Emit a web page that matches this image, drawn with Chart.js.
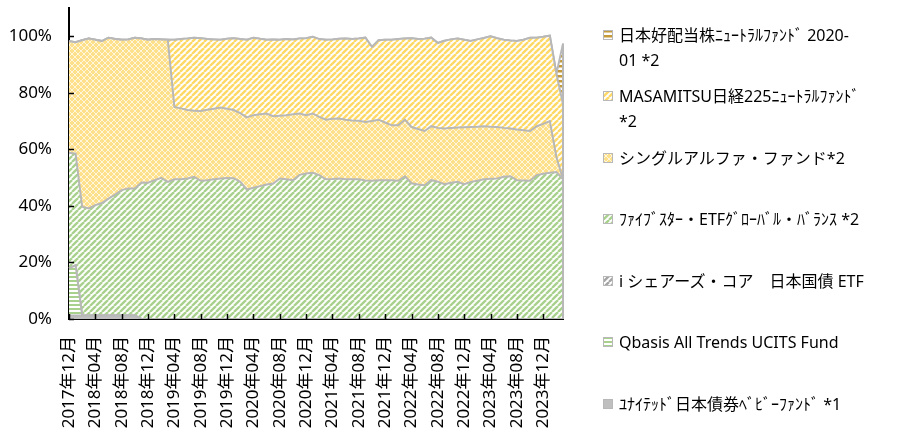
<!DOCTYPE html>
<html>
<head>
<meta charset="utf-8">
<script src="https://cdn.jsdelivr.net/npm/chart.js@4.4.1/dist/chart.umd.min.js"></script>
<style>
html, body { margin: 0; padding: 0; background: #fff; }
#wrap { position: relative; width: 898px; height: 435px; overflow: hidden; }
.item { position: absolute; left: 603px; white-space: pre; font-family: "Noto Sans", "Noto Sans CJK JP", sans-serif; font-size: 16px; line-height: 25px; color: #000; }
.item canvas { position: absolute; left: 0; top: 7px; }
.item span { position: absolute; left: 16px; top: 0; }
</style>
</head>
<body>
<div id="wrap">
  <canvas id="chart" width="898" height="435"></canvas>
  <div id="legend"></div>
</div>
<script>
// 月次データ 2017年12月〜2024年03月（構成比 %）
const START_YEAR = 2017;
const START_MONTH = 12;

// 系列名（下から順）。\n は凡例の改行位置
const seriesNames = [
  'ﾕﾅｲﾃｯﾄﾞ日本債券ﾍﾞﾋﾞｰﾌｧﾝﾄﾞ *1',
  'Qbasis All Trends UCITS Fund',
  'i シェアーズ・コア　日本国債 ETF',
  'ﾌｧｲﾌﾞｽﾀｰ・ETFｸﾞﾛｰﾊﾞﾙ・ﾊﾞﾗﾝｽ *2',
  'シングルアルファ・ファンド*2',
  'MASAMITSU日経225ﾆｭｰﾄﾗﾙﾌｧﾝﾄﾞ\n*2',
  '日本好配当株ﾆｭｰﾄﾗﾙﾌｧﾝﾄﾞ 2020-\n01 *2'
];

const united = [1.2, 1.2, 1.2, 1.2, 1.2, 1.2, 1.2, 1.2, 1.2, 1.2, 1.2,
  0, 0, 0, 0, 0, 0, 0, 0, 0, 0, 0, 0, 0, 0, 0, 0, 0, 0, 0, 0, 0, 0,
  0, 0, 0, 0, 0, 0, 0, 0, 0, 0, 0, 0, 0, 0, 0, 0, 0, 0, 0, 0, 0, 0,
  0, 0, 0, 0, 0, 0, 0, 0, 0, 0, 0, 0, 0, 0, 0, 0, 0, 0, 0, 0, 0, 0];

const qbasis = [16.7, 17.8,
  0, 0, 0, 0, 0, 0, 0, 0, 0, 0, 0, 0, 0, 0, 0, 0, 0, 0, 0, 0, 0, 0, 0, 0, 0,
  0, 0, 0, 0, 0, 0, 0, 0, 0, 0, 0, 0, 0, 0, 0, 0, 0, 0, 0, 0, 0, 0, 0, 0, 0,
  0, 0, 0, 0, 0, 0, 0, 0, 0, 0, 0, 0, 0, 0, 0, 0, 0, 0, 0, 0, 0, 0, 0, 0];

const ishares = [0, 0, 0, 0, 0, 0, 0, 0, 0, 0, 0, 0, 0, 0, 0, 0, 0, 0, 0, 0,
  0, 0, 0, 0, 0, 0, 0, 0, 0, 0, 0, 0, 0, 0, 0, 0, 0, 0, 0, 0, 0, 0, 0, 0,
  0, 0, 0, 0, 0, 0, 0, 0, 0, 0, 0, 0, 0, 0, 0, 0, 0, 0, 0, 0, 0, 0, 0, 0,
  0, 0, 0, 0, 0, 0, 0, 0];

const fivestar = [40.9, 39.5, 38.5, 37.9, 39.1, 39.8, 41.4, 42.8, 44.4, 45.0,
  45.0, 48.3, 48.2, 49.1, 49.9, 48.5, 49.4, 49.4, 49.7, 50.3,
  48.9, 49.1, 49.4, 49.7, 49.9, 49.8, 48.5, 45.8, 46.4, 47.0,
  47.6, 47.9, 49.7, 49.4, 49.1, 51.0, 51.5, 51.7, 50.9, 49.4,
  49.5, 49.7, 49.4, 49.4, 49.4, 49.0, 48.9, 49.1, 49.1, 49.1,
  48.9, 50.5, 48.0, 47.6, 47.3, 49.1, 48.6, 47.7, 48.2, 48.5,
  47.7, 48.5, 48.9, 49.4, 49.6, 49.7, 50.3, 50.5, 49.1, 49.0,
  48.9, 50.9, 51.4, 51.7, 52.0, 49.4];

const singleAlpha = [39.4, 39.4, 58.9, 60.1, 58.5, 57.3, 56.9, 55.0, 53.2, 52.7,
  53.3, 50.9, 50.6, 49.9, 49.0, 50.3, 25.6, 25.1, 24.2, 23.4,
  24.7, 24.9, 25.0, 25.1, 24.5, 24.1, 24.3, 25.5, 25.7, 25.4,
  25.1, 23.8, 22.2, 22.7, 23.3, 21.7, 20.6, 21.0, 20.6, 21.1,
  21.3, 21.2, 21.1, 20.8, 20.7, 20.7, 21.1, 21.4, 20.4, 19.4,
  19.6, 20.0, 19.9, 19.6, 19.2, 19.1, 19.0, 19.7, 19.4, 19.2,
  20.1, 19.4, 19.1, 18.8, 18.4, 18.2, 17.3, 16.9, 17.9, 17.8,
  17.6, 17.3, 17.6, 18.3, 5.3, 0];

const masamitsu = [0, 0, 0, 0, 0, 0, 0, 0, 0, 0, 0, 0, 0, 0, 0, 0,
  23.8, 24.5, 25.3, 25.8, 25.7, 25.0, 24.5, 24.0, 24.7, 25.4,
  26.2, 27.5, 27.4, 26.7, 26.1, 27.2, 26.9, 26.9, 26.5, 26.5,
  27.2, 27.1, 27.5, 28.3, 28.1, 28.2, 28.7, 28.8, 29.1, 29.8,
  26.2, 28.1, 29.3, 30.3, 30.5, 28.7, 31.4, 31.8, 32.6, 31.3,
  30.0, 31.0, 31.3, 31.5, 31.0, 30.4, 30.9, 31.2, 32.0, 31.4,
  31.2, 31.1, 31.3, 32.0, 33.0, 31.3, 30.8, 30.2, 29.5, 26.6];

const kohaito = [0, 0, 0, 0, 0, 0, 0, 0, 0, 0, 0, 0, 0, 0, 0, 0, 0, 0, 0, 0,
  0, 0, 0, 0, 0, 0, 0, 0, 0, 0, 0, 0, 0, 0, 0, 0, 0, 0, 0, 0, 0, 0, 0, 0,
  0, 0, 0, 0, 0, 0, 0, 0, 0, 0, 0, 0, 0, 0, 0, 0, 0, 0, 0, 0, 0, 0, 0, 0,
  0, 0, 0, 0, 0, 0, 0, 21.4];

const yTicks = [0, 20, 40, 60, 80, 100];

// カテゴリ（年月ラベル）
const labels = [];
for (let i = 0; i < fivestar.length; i++) {
  const k = START_MONTH - 1 + i;
  labels.push((START_YEAR + Math.floor(k / 12)) + '年' + String(k % 12 + 1).padStart(2, '0') + '月');
}

// パターン塗り
function makeTile(w, h, draw) {
  const c = document.createElement('canvas');
  c.width = w; c.height = h;
  draw(c.getContext('2d'), w, h);
  return c;
}
function solid(col) {
  return makeTile(4, 4, (g, w, h) => { g.fillStyle = col; g.fillRect(0, 0, w, h); });
}
function hStripe(col, p, t) {
  return makeTile(p, p, (g) => {
    g.fillStyle = '#fff'; g.fillRect(0, 0, p, p);
    g.fillStyle = col; g.fillRect(0, 0, p, t);
  });
}
function diag(col, p, lw) {
  return makeTile(p, p, (g) => {
    g.fillStyle = '#fff'; g.fillRect(0, 0, p, p);
    g.strokeStyle = col; g.lineWidth = lw;
    for (const o of [-p, 0, p]) {
      g.beginPath(); g.moveTo(o, p); g.lineTo(o + p, 0); g.stroke();
    }
  });
}
function lattice(col, p) {
  return makeTile(p, p, (g) => {
    g.fillStyle = col; g.fillRect(0, 0, p, p);
    g.strokeStyle = 'rgba(255,255,255,0.7)'; g.lineWidth = 1;
    for (const o of [-p, 0, p]) {
      g.beginPath(); g.moveTo(o, p); g.lineTo(o + p, 0); g.stroke();
      g.beginPath(); g.moveTo(o, 0); g.lineTo(o + p, p); g.stroke();
    }
  });
}

const tiles = [
  solid('#bfbfbf'),
  hStripe('#a9d18e', 4, 2),
  diag('#a5a5a5', 6, 2.4),
  diag('#a9d18e', 6, 2.4),
  lattice('#ffe08a', 6),
  diag('#ffd966', 6, 2.4),
  hStripe('#c49a3a', 5, 2.5)
];

const seriesData = [united, qbasis, ishares, fivestar, singleAlpha, masamitsu, kohaito];
const outline = '#b8b8b8';
const fontFamily = '"Noto Sans", "Noto Sans CJK JP", sans-serif';

const ctx = document.getElementById('chart').getContext('2d');

const datasets = seriesData.map((d, i) => ({
  label: seriesNames[i].replace('\n', ''),
  data: d,
  backgroundColor: ctx.createPattern(tiles[i], 'repeat'),
  borderColor: outline,
  borderWidth: 2,
  pointRadius: 0,
  tension: 0,
  fill: i === 0 ? 'origin' : '-1'
}));

// 内向きの目盛りと右端の輪郭線
const decor = {
  id: 'decor',
  afterDraw(chart) {
    const { ctx, scales: { x, y } } = chart;
    ctx.save();
    const li = labels.length - 1;
    let total = 0;
    seriesData.forEach(d => { total += d[li]; });
    const ex = x.getPixelForValue(li);
    ctx.strokeStyle = outline;
    ctx.lineWidth = 2;
    ctx.beginPath();
    ctx.moveTo(ex, y.getPixelForValue(0));
    ctx.lineTo(ex, y.getPixelForValue(total));
    ctx.stroke();

    ctx.strokeStyle = '#000';
    ctx.lineWidth = 1.5;
    x.ticks.forEach((t, i) => {
      const px = Math.round(x.getPixelForTick(i)) + 0.5;
      ctx.beginPath(); ctx.moveTo(px, y.bottom); ctx.lineTo(px, y.bottom - 5); ctx.stroke();
    });
    y.ticks.forEach((t, i) => {
      const py = Math.round(y.getPixelForTick(i)) + 0.5;
      ctx.beginPath(); ctx.moveTo(x.left, py); ctx.lineTo(x.left + 5, py); ctx.stroke();
    });
    ctx.restore();
  }
};

new Chart(ctx, {
  type: 'line',
  data: { labels: labels, datasets: datasets },
  options: {
    responsive: false,
    animation: false,
    layout: { padding: { top: 8, right: 335, left: 0, bottom: 0 } },
    plugins: { legend: { display: false }, tooltip: { enabled: false } },
    scales: {
      x: {
        type: 'category',
        offset: false,
        z: 1,
        grid: { display: false, drawTicks: false },
        border: { display: true, color: '#000', width: 2 },
        ticks: {
          autoSkip: false,
          maxRotation: 90,
          minRotation: 90,
          padding: 17,
          color: '#000',
          font: { family: fontFamily, size: 17 }
        },
        afterBuildTicks: (s) => { s.ticks = s.ticks.filter(t => t.value % 4 === 0); },
        afterFit: (s) => { s.height = 116; s.paddingLeft = 0; s.paddingRight = 0; }
      },
      y: {
        stacked: true,
        min: 0,
        max: 110,
        z: 1,
        grid: { display: false, drawTicks: false },
        border: { display: true, color: '#000', width: 2 },
        ticks: {
          stepSize: 20,
          padding: 17,
          color: '#000',
          font: { family: fontFamily, size: 17 },
          callback: (v) => v + '%'
        },
        afterBuildTicks: (s) => { s.ticks = s.ticks.filter(t => yTicks.includes(t.value)); },
        afterFit: (s) => { s.width = 69; s.paddingTop = 0; s.paddingBottom = 0; }
      }
    }
  },
  plugins: [decor]
});

// 凡例（上の系列から順）
const legend = document.getElementById('legend');
for (let k = 0; k < seriesNames.length; k++) {
  const i = seriesNames.length - 1 - k;
  const item = document.createElement('div');
  item.className = 'item';
  item.style.top = (35 + 61.5 * k - 12.5) + 'px';
  const sw = document.createElement('canvas');
  sw.width = 10; sw.height = 10;
  const g = sw.getContext('2d');
  g.fillStyle = g.createPattern(tiles[i], 'repeat');
  g.fillRect(0, 0, 10, 10);
  g.strokeStyle = outline; g.lineWidth = 1;
  g.strokeRect(0.5, 0.5, 9, 9);
  const tx = document.createElement('span');
  tx.textContent = seriesNames[i];
  item.appendChild(sw);
  item.appendChild(tx);
  legend.appendChild(item);
}
</script>
</body>
</html>
